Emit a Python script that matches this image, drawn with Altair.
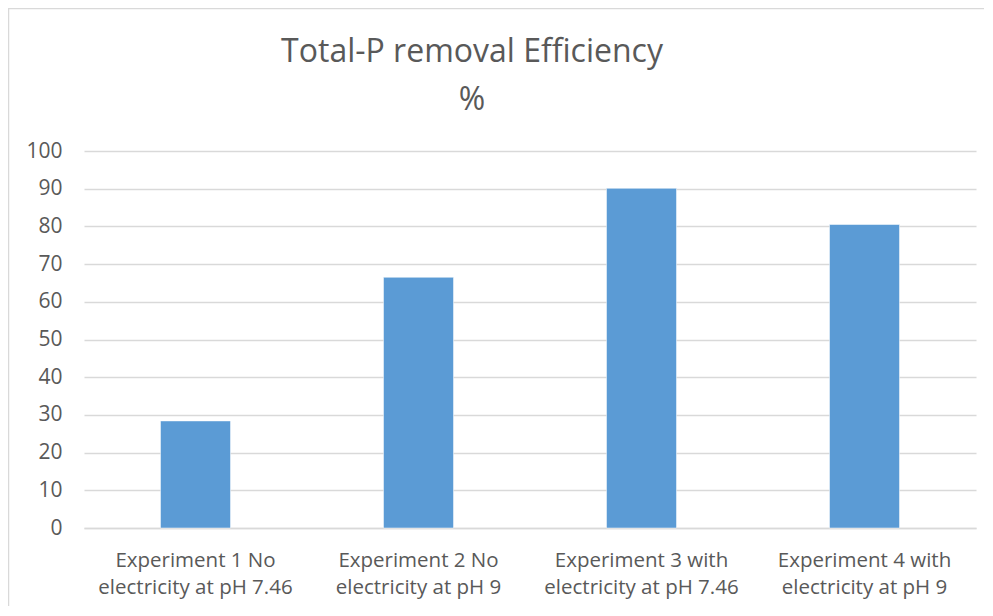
import altair as alt
import pandas as pd

line1 = ["Experiment 1 No", "Experiment 2 No", "Experiment 3 with", "Experiment 4 with"]
line2 = ["electricity at pH 7.46", "electricity at pH 9", "electricity at pH 7.46", "electricity at pH 9"]
values = [28.4, 66.5, 90.1, 80.5]
title_lines = ["Total-P removal Efficiency", "%"]

categories = [a + "\n" + b for a, b in zip(line1, line2)]
df = pd.DataFrame({"cat": categories, "val": values})

FONT = "Open Sans"
TXT = "#595959"
GRID = "#d9d9d9"

bars = alt.Chart(df).mark_bar(color="#5b9bd5", stroke="#ffffff", strokeWidth=0.5).encode(
    x=alt.X("cat:N", sort=categories, title=None,
            scale=alt.Scale(paddingInner=0.686, paddingOuter=0.343),
            axis=alt.Axis(labelExpr="split(datum.value, '\\n')", labelAngle=0,
                          labelFont=FONT, labelFontSize=20.5, labelColor=TXT,
                          labelPadding=22, labelLineHeight=27, labelLimit=400,
                          ticks=False, domain=True, domainColor=GRID,
                          domainWidth=1.3, grid=False)),
    y=alt.Y("val:Q", title=None,
            scale=alt.Scale(domain=[0, 100], nice=False),
            axis=alt.Axis(values=list(range(0, 101, 10)), labelFont=FONT,
                          labelFontSize=21, labelColor=TXT, labelPadding=22,
                          ticks=False, domain=False, grid=True, gridColor=GRID,
                          gridWidth=1.3)),
)

frame_df = pd.DataFrame({"k": [0]})
frame = alt.Chart(frame_df).mark_rect(fill=None, stroke=GRID, strokeWidth=1.5).encode(
    x=alt.value(-75.5), x2=alt.value(1000), y=alt.value(-142.5), y2=alt.value(1000)
)

title_df = pd.DataFrame({"t": title_lines, "row": [0, 1]})
title = alt.Chart(title_df).mark_text(font=FONT, fontSize=32, color=TXT,
                                      align="center", baseline="alphabetic").encode(
    text="t:N",
    x=alt.value(388),
    y=alt.Y("row:Q", scale=alt.Scale(domain=[0, 1], range=[-89, -41]), axis=None),
)

chart = alt.layer(frame, title, bars).resolve_scale(y="independent").properties(
    width=892, height=377,
    padding={"left": 76, "top": 143, "right": 8, "bottom": 78},
    autosize=alt.AutoSizeParams(type="none"),
).configure_view(stroke=None)

chart.save("out.html", embed_options={"renderer": "svg", "actions": False})
